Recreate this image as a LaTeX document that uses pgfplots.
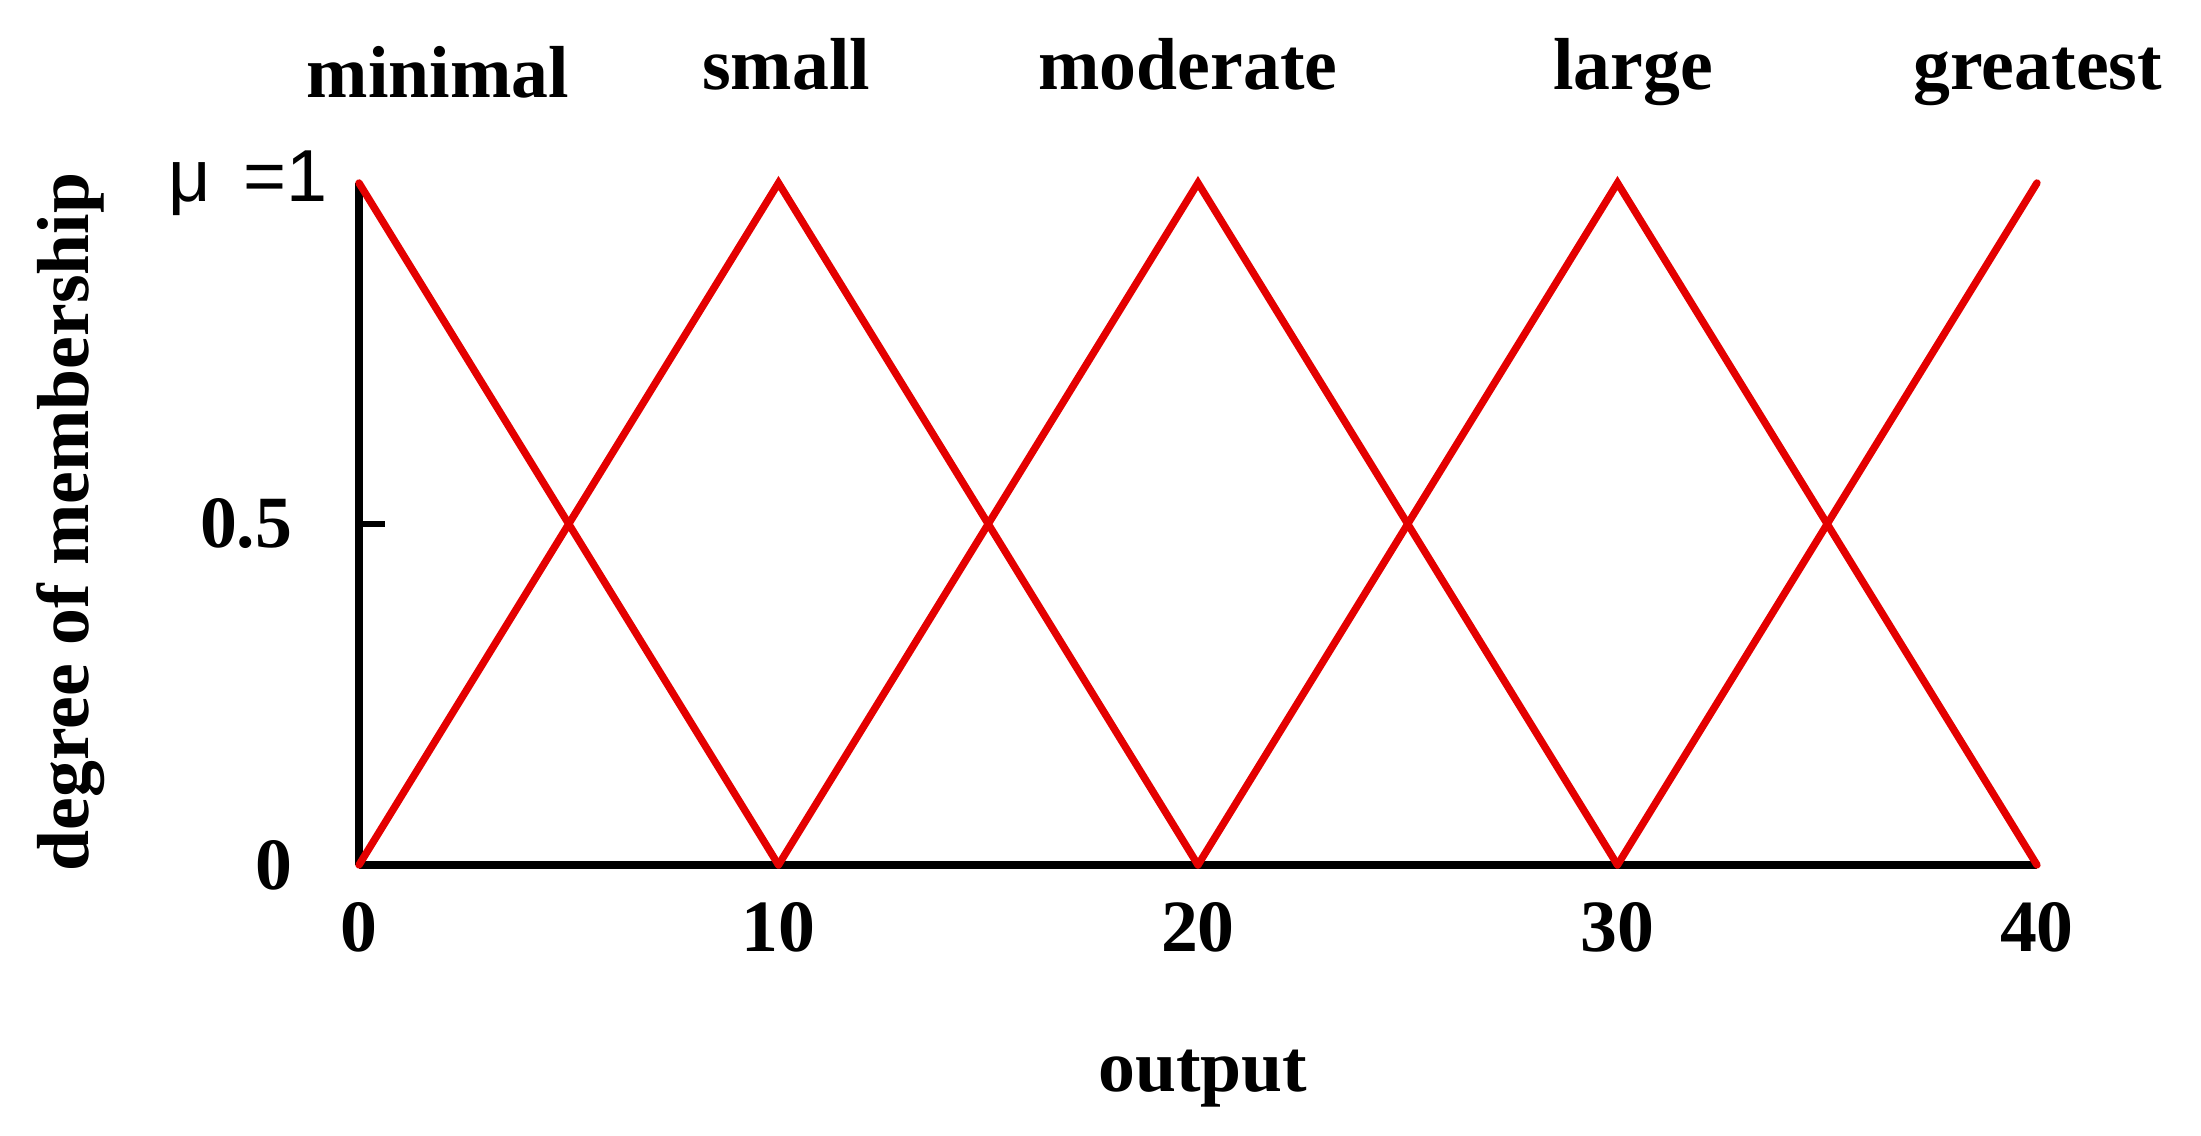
\documentclass[border=0pt]{standalone}
\usepackage{fontspec}
\setmainfont{Liberation Serif}
\newfontfamily\musans{Liberation Sans}
\usepackage{pgfplots}
\pgfplotsset{compat=1.18}
\definecolor{mfred}{RGB}{228,0,0}

\begin{document}
\begin{tikzpicture}
\begin{axis}[
  scale only axis, width=318.82pt, height=129.58pt,
  xmin=0, xmax=40, ymin=0, ymax=1,
  axis x line=bottom, axis y line=left,
  axis line style={-, line width=1.45pt, black},
  clip=false,
  font=\fontsize{14}{16}\selectfont\bfseries,
  /pgf/number format/assume math mode=true,
  xtick={0,10,20,30,40},
  xtick style={draw=none},
  xticklabel style={inner sep=0pt, yshift=-7pt},
  ytick={0,0.5}, yticklabels={0,0.5},
  tick align=inside,
  ytick style={line width=1.3pt, black},
  major tick length=4.94pt,
  yticklabel style={inner sep=0pt, xshift=-12.5pt},
  extra y ticks={1},
  extra y tick labels={{\musans\mdseries μ\hspace{0.45em}=1}},
  extra y tick style={major tick length=0pt, yticklabel style={xshift=6.8pt}},
  xlabel={output},
  xlabel style={at={([yshift=-43.1pt]axis cs:20.12,0)}, anchor=base},
  ylabel={degree of membership},
  ylabel style={at={([xshift=-51.3pt]rel axis cs:0,0.503)}, anchor=base},
  mf/.style={mfred, line width=1.4pt, line cap=round, line join=miter, mark=none},
]
% minimal
\addplot[mf] coordinates {(0,1) (10,0)};
% small
\addplot[mf] coordinates {(0,0) (10,1) (20,0)};
% moderate
\addplot[mf] coordinates {(10,0) (20,1) (30,0)};
% large
\addplot[mf] coordinates {(20,0) (30,1) (40,0)};
% greatest
\addplot[mf] coordinates {(30,0) (40,1)};

\node[anchor=base] at (axis cs:1.88,1.125) {minimal};
\node[anchor=base] at (axis cs:10.18,1.137) {small};
\node[anchor=base] at (axis cs:19.76,1.137) {moderate};
\node[anchor=base] at (axis cs:30.37,1.137) {large};
\node[anchor=base] at (axis cs:40.02,1.137) {greatest};
\end{axis}
\pgfresetboundingbox
\useasboundingbox (-68.21pt,-51.49pt) rectangle (349.98pt,164.35pt);
\end{tikzpicture}
\end{document}
